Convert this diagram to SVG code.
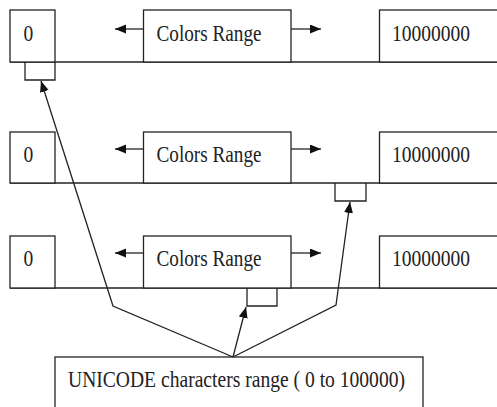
<svg xmlns="http://www.w3.org/2000/svg" width="497" height="407" viewBox="0 0 497 407">
  <style>
    .box { fill: #fff; stroke: #222; stroke-width: 1.3; }
    .ln { fill: none; stroke: #222; stroke-width: 1.3; }
    .t { font-family: "Liberation Serif", "Times New Roman", Tinos, "Noto Serif", "DejaVu Serif", FreeSerif, "Nimbus Roman", Times, serif; font-size: 19.5px; fill: #222; }
  </style>
  <defs>
    <marker id="head" markerUnits="userSpaceOnUse" markerWidth="12" markerHeight="10" refX="11" refY="4.5" orient="auto">
      <path d="M0,0 L11,4.5 L0,9 z" fill="#111"/>
    </marker>
  </defs>
  <rect width="497" height="407" fill="#fff"/>

  <!-- row 1 -->
  <g id="row1">
    <line class="ln" x1="10" y1="62" x2="497" y2="62"/>
    <rect class="box" x="10" y="10" width="45" height="52"/>
    <text class="t" transform="translate(23.5,41) scale(1,1.15)">0</text>
    <rect class="box" x="143.5" y="10" width="147.5" height="52"/>
    <text class="t" transform="translate(156.5,41) scale(1,1.15)" textLength="105" lengthAdjust="spacingAndGlyphs">Colors Range</text>
    <rect class="box" x="379.5" y="10" width="130" height="52"/>
    <text class="t" transform="translate(392,41) scale(1,1.15)" textLength="78" lengthAdjust="spacingAndGlyphs">10000000</text>
    <line class="ln" x1="143.5" y1="29" x2="115" y2="29" marker-end="url(#head)"/>
    <line class="ln" x1="291" y1="29" x2="321" y2="29" marker-end="url(#head)"/>
    <path class="ln" d="M25,62 V80 H55 V62"/>
  </g>

  <!-- row 2 -->
  <g id="row2">
    <line class="ln" x1="10" y1="183" x2="497" y2="183"/>
    <rect class="box" x="10" y="132" width="45" height="51"/>
    <text class="t" transform="translate(23.5,162) scale(1,1.15)">0</text>
    <rect class="box" x="143.5" y="132" width="147.5" height="51"/>
    <text class="t" transform="translate(156.5,162) scale(1,1.15)" textLength="105" lengthAdjust="spacingAndGlyphs">Colors Range</text>
    <rect class="box" x="379.5" y="132" width="130" height="51"/>
    <text class="t" transform="translate(392,162) scale(1,1.15)" textLength="78" lengthAdjust="spacingAndGlyphs">10000000</text>
    <line class="ln" x1="143.5" y1="149" x2="115" y2="149" marker-end="url(#head)"/>
    <line class="ln" x1="291" y1="149" x2="321" y2="149" marker-end="url(#head)"/>
    <path class="ln" d="M335,183 V201 H366 V183"/>
  </g>

  <!-- row 3 -->
  <g id="row3">
    <line class="ln" x1="10" y1="288" x2="497" y2="288"/>
    <rect class="box" x="10" y="236" width="45" height="52"/>
    <text class="t" transform="translate(23.5,266) scale(1,1.15)">0</text>
    <rect class="box" x="143.5" y="236" width="147.5" height="52"/>
    <text class="t" transform="translate(156.5,266) scale(1,1.15)" textLength="105" lengthAdjust="spacingAndGlyphs">Colors Range</text>
    <rect class="box" x="379.5" y="236" width="130" height="52"/>
    <text class="t" transform="translate(392,266) scale(1,1.15)" textLength="78" lengthAdjust="spacingAndGlyphs">10000000</text>
    <line class="ln" x1="143.5" y1="253" x2="115" y2="253" marker-end="url(#head)"/>
    <line class="ln" x1="291" y1="253" x2="321" y2="253" marker-end="url(#head)"/>
    <path class="ln" d="M247,288 V306 H277 V288"/>
  </g>

  <!-- source range -->
  <g id="unicode">
    <rect class="box" x="55" y="357" width="368" height="70"/>
    <text class="t" transform="translate(68,387) scale(1,1.15)" textLength="337" lengthAdjust="spacingAndGlyphs">UNICODE characters range ( 0 to 100000)</text>
  </g>

  <!-- connectors -->
  <g id="connectors">
    <path class="ln" d="M233,357 L113,306 L41,81" marker-end="url(#head)"/>
    <path class="ln" d="M233,357 L246,307" marker-end="url(#head)"/>
    <path class="ln" d="M233,357 L336,305 L350,202" marker-end="url(#head)"/>
  </g>
</svg>
